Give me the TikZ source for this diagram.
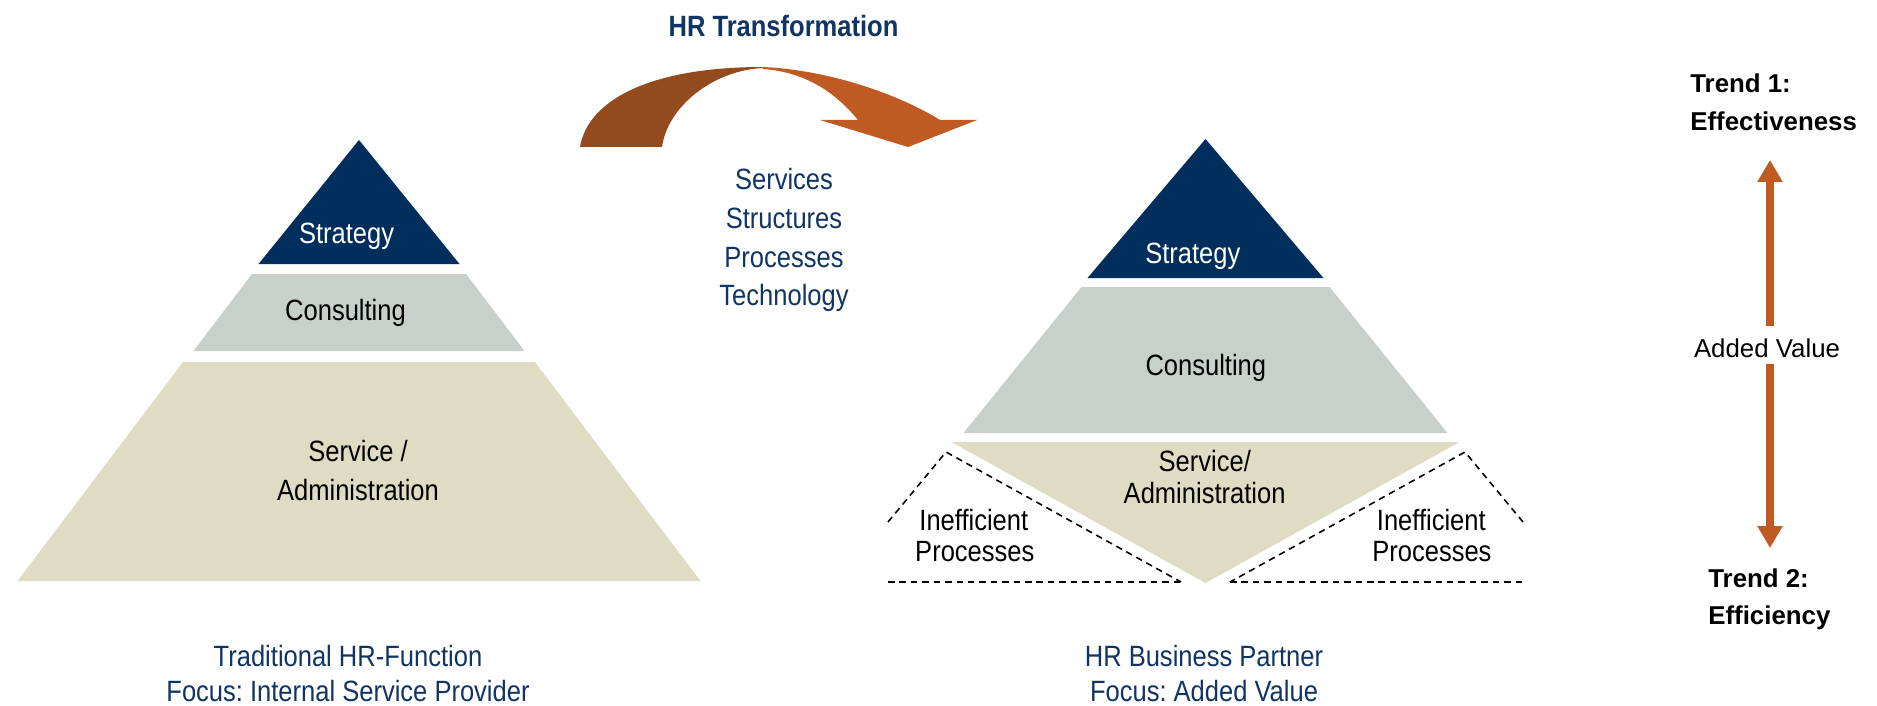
\documentclass[tikz,border=0pt]{standalone}
\usepackage{fontspec}
\setmainfont{Liberation Sans}
\newfontfamily\nar{Liberation Sans}[FakeStretch=0.87]
\usetikzlibrary{arrows.meta,calc}
\definecolor{navy}{RGB}{0,47,94}
\definecolor{txtblue}{RGB}{16,52,100}
\definecolor{consgray}{RGB}{199,208,202}
\definecolor{servbeige}{RGB}{223,220,195}
\definecolor{orng}{RGB}{191,91,34}
\definecolor{brwn}{RGB}{147,74,28}
\frenchspacing
\begin{document}
\begin{tikzpicture}[x=0.02cm,y=-0.02cm,
  lbl/.style={font=\nar\fontsize{16.7}{20}\selectfont, anchor=base, inner sep=0pt, text=black},
  bluelbl/.style={lbl, text=txtblue},
  trend/.style={font=\bfseries\fontsize{14.7}{18}\selectfont, anchor=base west, inner sep=0pt, text=black},
  dashline/.style={draw=black, line width=0.9pt, dash pattern=on 3.7pt off 2.8pt},
  trendarrow/.style={draw=orng, line width=4.5pt, -{Triangle[width=0.48cm,length=0.44cm]}}
]
\fill[white] (0,0) rectangle (1877,706);
\useasboundingbox (0,0) rectangle (1877,706);

% ---- HR transformation arrow ----
\fill[brwn] (580,147) .. controls (588,100) and (650,67) .. (763,67)
   -- (763,68) .. controls (715,70) and (668,105) .. (662,147) -- cycle;
\fill[orng] (763,67) .. controls (830,70) and (900,95) .. (940,120)
   -- (977,120) -- (908,147) -- (820,120) -- (858,120)
   .. controls (835,92) and (805,72) .. (763,69) -- cycle;

\node[bluelbl, font=\nar\bfseries\fontsize{16.7}{20}\selectfont] (title) at (783.5,36.7) {HR Transformation};
\node[bluelbl] (s1) at (784,190) {Services};
\node[bluelbl] (s2) at (784,228.5) {Structures};
\node[bluelbl] (s3) at (784,267) {Processes};
\node[bluelbl] (s4) at (784,305.5) {Technology};

% ---- left pyramid ----
\fill[navy] (359,140) -- (459.5,264) -- (258.5,264) -- cycle;
\fill[consgray] (252,274) -- (466,274) -- (524.5,351) -- (193.5,351) -- cycle;
\fill[servbeige] (183,362) -- (535,362) -- (700.5,581) -- (17.5,581) -- cycle;
\node[lbl, text=white] (ls) at (346.6,243) {Strategy};
\node[lbl] (lc) at (345.5,320) {Consulting};
\node[lbl] (lsa1) at (358,461.7) {Service /};
\node[lbl] (lsa2) at (358,500) {Administration};

% ---- right pyramid ----
\fill[navy] (1205.5,139) -- (1323.5,278) -- (1087.5,278) -- cycle;
\fill[consgray] (1081.5,287) -- (1329.5,287) -- (1447.5,433) -- (963.5,433) -- cycle;
\fill[servbeige] (951.5,442) -- (1459.5,442) -- (1205.5,583) -- cycle;
\draw[dashline] (888,522) -- (946,452) -- (1181,582);
\draw[dashline] (888,582) -- (1181,582);
\draw[dashline] (1523,522) -- (1465,452) -- (1230,582);
\draw[dashline] (1230,582) -- (1523,582);
\node[lbl, text=white] (rs) at (1192.8,263.3) {Strategy};
\node[lbl] (rc) at (1205.8,375) {Consulting};
\node[lbl] (rsa1) at (1204.8,471.7) {Service/};
\node[lbl] (rsa2) at (1204.6,503) {Administration};
\node[lbl] (ip1) at (973.8,530) {Inefficient};
\node[lbl] (ip2) at (974.8,561.7) {Processes};
\node[lbl] (ip3) at (1431.3,530) {Inefficient};
\node[lbl] (ip4) at (1431.9,561.7) {Processes};

% ---- captions ----
\node[bluelbl] (c1) at (348,666.7) {Traditional HR-Function};
\node[bluelbl] (c2) at (348,701.7) {Focus: Internal Service Provider};
\node[bluelbl] (c3) at (1204,666.7) {HR Business Partner};
\node[bluelbl] (c4) at (1204,701.7) {Focus: Added Value};

% ---- trends ----
\node[trend] (t1a) at (1690,93) {Trend 1:};
\node[trend] (t1b) at (1690,131) {Effectiveness};
\node[trend] (t2a) at (1708,587) {Trend 2:};
\node[trend] (t2b) at (1708,624) {Efficiency};
\node[font=\fontsize{14.7}{18}\selectfont, anchor=base, inner sep=0pt] (av) at (1767,357) {Added Value};
\coordinate (tipup) at (1770,160);
\coordinate (tipdown) at (1770,548);
\draw[trendarrow] ($(av.north -| tipup)+(0,-12)$) -- (tipup);
\draw[trendarrow] ($(av.south -| tipdown)+(0,6)$) -- (tipdown);
\end{tikzpicture}
\end{document}
